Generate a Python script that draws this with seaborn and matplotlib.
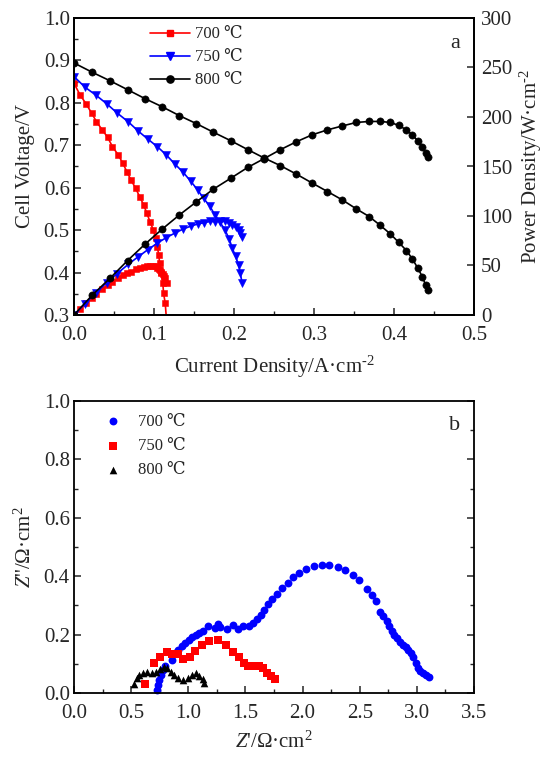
import numpy as np
import pandas as pd
import matplotlib
matplotlib.use("Agg")
import matplotlib.pyplot as plt
from matplotlib.ticker import MultipleLocator, FormatStrFormatter
from matplotlib.lines import Line2D
import seaborn as sns

# ---------------- Panel a: I-V and I-P curves ----------------
i_700 = [0, 0.0075, 0.015, 0.022, 0.028, 0.035, 0.042, 0.048, 0.055, 0.061, 0.066, 0.071,
         0.077, 0.082, 0.087, 0.091, 0.095, 0.099, 0.102, 0.104, 0.106, 0.107, 0.109,
         0.111, 0.112, 0.114, 0.116]
v_700 = [0.846, 0.819, 0.798, 0.776, 0.756, 0.737, 0.719, 0.697, 0.678, 0.658, 0.638, 0.619,
         0.599, 0.579, 0.560, 0.540, 0.520, 0.501, 0.481, 0.461, 0.442, 0.422, 0.398,
         0.375, 0.351, 0.328, 0.280]
p_700 = [0, 6.1, 12.0, 17.1, 21.2, 25.8, 30.2, 33.5, 37.3, 40.1, 42.1, 43.9,
         46.1, 47.5, 48.7, 49.1, 49.4, 49.6, 49.1, 47.9, 46.9, 45.2, 43.4,
         41.6, 39.3, 37.4, 32.5]

i_750 = [0, 0.0137, 0.0275, 0.0408, 0.054, 0.068, 0.080, 0.092, 0.104, 0.115, 0.126, 0.1366,
         0.146, 0.1545, 0.162, 0.170, 0.176, 0.182, 0.1886, 0.194, 0.198, 0.202, 0.2057,
         0.208, 0.210]
v_750 = [0.862, 0.837, 0.818, 0.798, 0.776, 0.755, 0.734, 0.715, 0.697, 0.678, 0.656, 0.636,
         0.615, 0.595, 0.575, 0.556, 0.536, 0.520, 0.501, 0.479, 0.457, 0.438, 0.418,
         0.398, 0.376]
p_750 = [0, 11.5, 22.5, 32.6, 41.9, 51.3, 58.7, 65.8, 72.5, 78.0, 82.7, 86.9,
         89.8, 91.9, 93.2, 94.5, 94.3, 94.6, 94.5, 92.9, 90.5, 88.5, 86.0,
         82.8, 79.0]

i_800 = [0, 0.0229, 0.045, 0.067, 0.0887, 0.110, 0.1316, 0.153, 0.174, 0.1957, 0.217, 0.2377,
         0.258, 0.278, 0.2977, 0.3168, 0.3356, 0.353, 0.369, 0.383, 0.3955, 0.406, 0.4155,
         0.423, 0.4296, 0.4355, 0.4396, 0.442]
v_800 = [0.894, 0.872, 0.852, 0.831, 0.810, 0.791, 0.770, 0.751, 0.731, 0.711, 0.690, 0.670,
         0.652, 0.632, 0.611, 0.591, 0.571, 0.550, 0.532, 0.511, 0.491, 0.471, 0.452,
         0.432, 0.411, 0.390, 0.370, 0.359]
p_800 = [0, 20.2, 37.1, 55.0, 71.5, 86.6, 101.0, 114.3, 127.0, 138.0, 149.0, 158.0,
         167.0, 175.0, 182.0, 187.0, 191.0, 194.5, 195.5, 195.5, 194.5, 191.5, 187.0,
         182.0, 176.0, 170.0, 163.5, 159.5]

# ---------------- Panel b: impedance spectra ----------------
zr_700 = [0.723, 0.732, 0.744, 0.758, 0.776, 0.796, 0.855, 0.884, 0.913, 0.945, 0.975, 1.005,
          1.035, 1.065, 1.095, 1.125, 1.170, 1.234, 1.263, 1.278, 1.336, 1.394, 1.438, 1.482,
          1.534, 1.569, 1.604, 1.634, 1.663, 1.700, 1.735, 1.773, 1.817, 1.870, 1.919, 1.971,
          2.030, 2.100, 2.167, 2.234, 2.307, 2.371, 2.438, 2.496, 2.566, 2.605, 2.643, 2.678,
          2.706, 2.736, 2.759, 2.780, 2.800, 2.824, 2.853, 2.881, 2.905, 2.925, 2.949, 2.969,
          2.990, 3.007, 3.028, 3.051, 3.077, 3.106]
zi_700 = [0.010, 0.027, 0.045, 0.062, 0.079, 0.094, 0.113, 0.136, 0.147, 0.160, 0.172, 0.183,
          0.192, 0.200, 0.207, 0.213, 0.229, 0.221, 0.236, 0.225, 0.218, 0.233, 0.218, 0.229,
          0.229, 0.241, 0.252, 0.267, 0.284, 0.304, 0.321, 0.339, 0.358, 0.378, 0.396, 0.410,
          0.424, 0.435, 0.439, 0.439, 0.433, 0.421, 0.404, 0.387, 0.357, 0.336, 0.315, 0.278,
          0.264, 0.248, 0.229, 0.213, 0.199, 0.187, 0.176, 0.164, 0.156, 0.147, 0.136, 0.122,
          0.104, 0.085, 0.076, 0.067, 0.062, 0.054]

zr_750 = [0.621, 0.702, 0.752, 0.816, 0.860, 0.912, 0.950, 1.014, 1.058, 1.116, 1.183, 1.256,
          1.326, 1.387, 1.442, 1.486, 1.524, 1.569, 1.620, 1.655, 1.690, 1.728, 1.763]
zi_750 = [0.032, 0.103, 0.125, 0.142, 0.132, 0.134, 0.116, 0.123, 0.145, 0.163, 0.179, 0.182,
          0.163, 0.142, 0.122, 0.103, 0.091, 0.092, 0.093, 0.085, 0.068, 0.057, 0.048]

zr_800 = [0.525, 0.548, 0.572, 0.607, 0.642, 0.680, 0.718, 0.753, 0.788, 0.817, 0.846, 0.875,
          0.913, 0.957, 1.000, 1.035, 1.068, 1.097, 1.126, 1.138]
zi_800 = [0.031, 0.050, 0.062, 0.070, 0.073, 0.067, 0.073, 0.081, 0.090, 0.085, 0.073, 0.062,
          0.050, 0.045, 0.050, 0.062, 0.067, 0.058, 0.047, 0.035]

temps = ["700 \u2103", "750 \u2103", "800 \u2103"]

sns.set_style("ticks")
plt.rcParams["font.family"] = ["Liberation Serif", "DejaVu Serif"]
plt.rcParams["mathtext.fontset"] = "custom"
plt.rcParams["mathtext.rm"] = "Liberation Serif"
plt.rcParams["mathtext.it"] = "Liberation Serif:italic"
plt.rcParams["axes.unicode_minus"] = False
plt.rcParams["xtick.direction"] = "in"
plt.rcParams["ytick.direction"] = "in"

FS = 15
fig = plt.figure(figsize=(5.48, 7.58), dpi=100)
ax = fig.add_axes([74 / 548, 1 - 315 / 758, 400 / 548, 297 / 758])
ax2 = ax.twinx()
axb = fig.add_axes([74 / 548, 1 - 693 / 758, 400 / 548, 292 / 758])

# polarization curves (voltage on the left axis, power on the right axis)
series = [
    (i_700, v_700, p_700, "#ff0000", "s", 4.2),
    (i_750, v_750, p_750, "#0000ff", "v", 5.4),
    (i_800, v_800, p_800, "#000000", "o", 5.2),
]
handles = []
for (cur, volt, pw, col, mk, ms), lab in zip(series, temps):
    kw = dict(color=col, marker=mk, markersize=ms, markeredgewidth=0.4,
              markeredgecolor=col, linewidth=1.2, estimator=None, sort=False)
    sns.lineplot(x=cur, y=volt, ax=ax, **kw)
    sns.lineplot(x=cur, y=pw, ax=ax2, **kw)
    handles.append(Line2D([], [], color=col, marker=mk, markersize=ms,
                          markeredgecolor=col, linewidth=1.2, label=lab))

ax.set_xlim(0, 0.5)
ax.set_ylim(0.3, 1.0)
ax2.set_ylim(0, 300)
ax.xaxis.set_major_locator(MultipleLocator(0.1))
ax.xaxis.set_minor_locator(MultipleLocator(0.05))
ax.yaxis.set_major_locator(MultipleLocator(0.1))
ax.yaxis.set_minor_locator(MultipleLocator(0.05))
ax.xaxis.set_major_formatter(FormatStrFormatter("%.1f"))
ax.yaxis.set_major_formatter(FormatStrFormatter("%.1f"))
ax2.yaxis.set_major_locator(MultipleLocator(50))
ax2.yaxis.set_major_formatter(FormatStrFormatter("%d"))

SUPM2 = "$^{\u2010 2}$"
ax.set_xlabel("Current Density/A\u00b7cm" + SUPM2, fontsize=FS, labelpad=6)
ax.set_ylabel("Cell Voltage/V", fontsize=FS, labelpad=6)
ax2.set_ylabel("Power Density/W\u00b7cm" + SUPM2, fontsize=FS, labelpad=4)

ax.legend(handles=handles, loc="upper left", bbox_to_anchor=(0.17, 1.0),
          frameon=False, fontsize=12, handlelength=2.4, handletextpad=0.3,
          labelspacing=0.42, borderaxespad=0.1)
ax.text(0.965, 0.915, "a", transform=ax.transAxes, fontsize=16, ha="right", va="center")

# impedance spectra
imp = [
    (zr_700, zi_700, "#0000ff", "o", 32),
    (zr_750, zi_750, "#ff0000", "s", 26),
    (zr_800, zi_800, "#000000", "^", 30),
]
for (zr, zi, col, mk, sz), lab in zip(imp, temps):
    sns.scatterplot(x=zr, y=zi, ax=axb, color=col, marker=mk, s=sz,
                    linewidth=0, label=lab, clip_on=False)

axb.set_xlim(0, 3.5)
axb.set_ylim(0, 1.0)
axb.xaxis.set_major_locator(MultipleLocator(0.5))
axb.xaxis.set_minor_locator(MultipleLocator(0.25))
axb.yaxis.set_major_locator(MultipleLocator(0.2))
axb.yaxis.set_minor_locator(MultipleLocator(0.1))
axb.xaxis.set_major_formatter(FormatStrFormatter("%.1f"))
axb.yaxis.set_major_formatter(FormatStrFormatter("%.1f"))
axb.set_xlabel("$Z$'/\u03a9\u00b7cm$^{2}$", fontsize=FS, labelpad=6)
axb.set_ylabel("$Z$''/\u03a9\u00b7cm$^{2}$", fontsize=FS, labelpad=6)
axb.legend(loc="upper left", bbox_to_anchor=(0.035, 0.985), frameon=False,
           fontsize=12, handletextpad=0.5, labelspacing=0.5, markerscale=1.0,
           borderaxespad=0.1)
axb.text(0.965, 0.915, "b", transform=axb.transAxes, fontsize=16, ha="right", va="center")

for a in (ax, ax2, axb):
    for sp in a.spines.values():
        sp.set_visible(True)
        sp.set_linewidth(1.3)
        sp.set_color("black")
for a in (ax, axb):
    a.tick_params(axis="both", which="major", labelsize=FS, length=5, width=1.1,
                  direction="in", pad=3)
    a.tick_params(axis="both", which="minor", length=3, width=1.0, direction="in")
    a.tick_params(axis="x", which="major", pad=8)
ax.tick_params(axis="y", which="both", right=False)
axb.tick_params(axis="y", which="both", right=True)
ax2.tick_params(axis="y", which="major", labelsize=FS, length=5, width=1.1,
                direction="in", pad=5)

fig.savefig("out.png", dpi=100)
